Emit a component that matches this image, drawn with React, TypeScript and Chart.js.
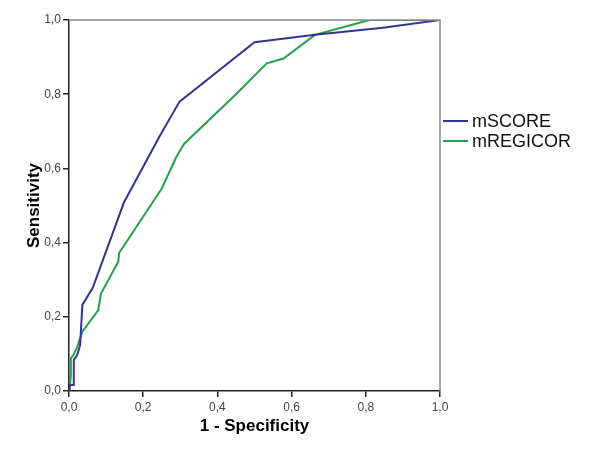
import React, { useEffect, useRef } from "react";
import { Chart, registerables } from "chart.js";

Chart.register(...registerables);

const seriesNames = ["mSCORE", "mREGICOR"];
const seriesColors = ["#34358f", "#22a04b"];

const scoreX = [0, 0.003, 0.013, 0.013, 0.022, 0.030, 0.036, 0.064, 0.148, 0.245, 0.298, 0.50, 0.663, 0.846, 1];
const scoreY = [0, 0.016, 0.016, 0.084, 0.097, 0.124, 0.232, 0.278, 0.508, 0.688, 0.78, 0.94, 0.96, 0.979, 1];

const regicorX = [0, 0.005, 0.005, 0.012, 0.022, 0.036, 0.079, 0.086, 0.133, 0.135, 0.25, 0.29, 0.31, 0.45, 0.533, 0.578, 0.663, 0.81, 1];
const regicorY = [0, 0.039, 0.088, 0.097, 0.119, 0.160, 0.218, 0.262, 0.349, 0.372, 0.546, 0.632, 0.666, 0.80, 0.883, 0.896, 0.96, 1.0, 1.0];

const tickValues = [0, 0.2, 0.4, 0.6, 0.8, 1.0];
const xTitle = "1 - Specificity";
const yTitle = "Sensitivity";

const fmt = (v: number) => v.toFixed(1).replace(".", ",");
const FONT = "Arial, 'Liberation Sans', sans-serif";

const frame = {
  id: "frame",
  afterDraw(chart: any) {
    const { ctx, chartArea } = chart;
    ctx.save();
    ctx.strokeStyle = "#8a8a8a";
    ctx.lineWidth = 1.5;
    ctx.beginPath();
    ctx.moveTo(chartArea.left, chartArea.top);
    ctx.lineTo(chartArea.right, chartArea.top);
    ctx.lineTo(chartArea.right, chartArea.bottom);
    ctx.stroke();
    ctx.restore();
  },
};

export default function App() {
  const ref = useRef<HTMLCanvasElement>(null);
  useEffect(() => {
    if (!ref.current) return;
    const toPts = (xs: number[], ys: number[]) => xs.map((x, i) => ({ x, y: ys[i] }));
    const axisCommon = (title: string, pad: any, tickPad: number) => ({
      type: "linear" as const,
      min: 0,
      max: 1,
      afterBuildTicks: (s: any) => {
        s.ticks = tickValues.map((v) => ({ value: v }));
      },
      ticks: {
        callback: (v: any) => fmt(Number(v)),
        color: "#444",
        font: { family: FONT, size: 12 },
        padding: tickPad,
        maxRotation: 0,
      },
      grid: {
        display: true,
        drawOnChartArea: false,
        drawTicks: true,
        tickLength: 6,
        color: "#222",
        lineWidth: 1.5,
      },
      border: { display: true, color: "#222", width: 1.5 },
      title: {
        display: true,
        text: title,
        color: "#000",
        font: { family: FONT, size: 17, weight: "bold" as const },
        padding: pad,
      },
    });
    const chart = new Chart(ref.current, {
      type: "scatter",
      data: {
        datasets: [
          {
            label: seriesNames[0],
            data: toPts(scoreX, scoreY),
            showLine: true,
            borderColor: seriesColors[0],
            backgroundColor: seriesColors[0],
            borderWidth: 2,
            pointRadius: 0,
            tension: 0,
          },
          {
            label: seriesNames[1],
            data: toPts(regicorX, regicorY),
            showLine: true,
            borderColor: seriesColors[1],
            backgroundColor: seriesColors[1],
            borderWidth: 2,
            pointRadius: 0,
            tension: 0,
          },
        ],
      },
      options: {
        animation: false,
        responsive: false,
        maintainAspectRatio: false,
        layout: { padding: { top: 20, right: 160, bottom: 0, left: 0 } },
        plugins: { legend: { display: false }, tooltip: { enabled: false } },
        scales: {
          x: {
            ...axisCommon(xTitle, { top: 0, bottom: 17 }, 3),
            afterFit: (s: any) => {
              s.height = 63;
            },
          },
          y: {
            ...axisCommon(yTitle, { top: 24, bottom: 0 }, 2),
            afterFit: (s: any) => {
              s.width = 69;
            },
          },
        },
      },
      plugins: [frame],
    });
    return () => chart.destroy();
  }, []);

  const legendItem = (i: number, top: number) => (
    <div
      key={i}
      style={{ position: "absolute", left: 443, top: top - 11, height: 22, display: "flex", alignItems: "center" }}
    >
      <div style={{ width: 25, height: 2, background: seriesColors[i] }} />
      <span
        style={{
          marginLeft: 4,
          fontFamily: FONT,
          fontSize: 18,
          color: "#111",
          lineHeight: "22px",
        }}
      >
        {seriesNames[i]}
      </span>
    </div>
  );

  return (
    <div style={{ position: "fixed", left: 0, top: 0, width: 600, height: 454, background: "#fff" }}>
      <canvas ref={ref} width={600} height={454} style={{ display: "block" }} />
      {legendItem(0, 121)}
      {legendItem(1, 141)}
    </div>
  );
}
